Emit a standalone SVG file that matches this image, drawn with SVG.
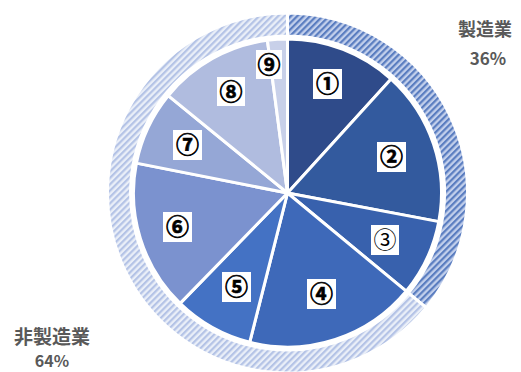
<svg xmlns="http://www.w3.org/2000/svg" width="521" height="372" viewBox="0 0 521 372">
<defs>
<pattern id="hatchM" patternUnits="userSpaceOnUse" width="4.5" height="4.5" patternTransform="rotate(45)">
<rect width="4.5" height="4.5" fill="#c3d0ec"/>
<rect width="2.2" height="4.5" fill="#5a7dc0"/>
</pattern>
<pattern id="hatchN" patternUnits="userSpaceOnUse" width="4.5" height="4.5" patternTransform="rotate(45)">
<rect width="4.5" height="4.5" fill="#eaeff8"/>
<rect width="2.2" height="4.5" fill="#b4c3e6"/>
</pattern>
</defs>
<style>
.sl{stroke:#ffffff;stroke-width:3;stroke-linejoin:round}
.ring{stroke:#ffffff;stroke-width:3}
.lb{fill:#ffffff}
.num{font-family:"Noto Sans CJK JP","DejaVu Sans",sans-serif;font-size:23px;font-weight:bold;fill:#000000;stroke:#000000;stroke-width:0.7;text-anchor:middle}
.thin{font-weight:normal;stroke-width:0}
.cat{font-family:"Noto Sans CJK JP","Noto Sans",sans-serif;font-weight:bold;fill:#595959;text-anchor:middle}
</style>
<rect width="521" height="372" fill="#ffffff"/>
<g id="ring">
<path id="ring-manufacturing" class="ring" fill="url(#hatchM)" d="M287.5,13 A180,180 0 0 1 426.2,307.7 L408.5,293.1 A157,157 0 0 0 287.5,36 Z"/>
<path id="ring-nonmanufacturing" class="ring" fill="url(#hatchN)" d="M426.2,307.7 A180,180 0 1 1 287.5,13 L287.5,36 A157,157 0 1 0 408.5,293.1 Z"/>
</g>
<g id="slices">
<path id="s1" class="sl" fill="#2f4b8a" d="M287.5,193 L287.5,39 A154,154 0 0 1 391.1,79.1 Z"/>
<path id="s2" class="sl" fill="#335a9e" d="M287.5,193 L391.1,79.1 A154,154 0 0 1 438.8,221.6 Z"/>
<path id="s3" class="sl" fill="#3861ad" d="M287.5,193 L438.8,221.6 A154,154 0 0 1 406.2,291.2 Z"/>
<path id="s4" class="sl" fill="#3e69b9" d="M287.5,193 L406.2,291.2 A154,154 0 0 1 249.7,342.3 Z"/>
<path id="s5" class="sl" fill="#4472c4" d="M287.5,193 L249.7,342.3 A154,154 0 0 1 180.1,303.4 Z"/>
<path id="s6" class="sl" fill="#7b92cf" d="M287.5,193 L180.1,303.4 A154,154 0 0 1 136.4,163.1 Z"/>
<path id="s7" class="sl" fill="#95a7d6" d="M287.5,193 L136.4,163.1 A154,154 0 0 1 168.2,95.7 Z"/>
<path id="s8" class="sl" fill="#b0bcdf" d="M287.5,193 L168.2,95.7 A154,154 0 0 1 267.4,40.3 Z"/>
<path id="s9" class="sl" fill="#c8d0e9" d="M287.5,193 L267.4,40.3 A154,154 0 0 1 287.5,39 Z"/>
</g>
<g id="labels">
<g id="l1"><rect class="lb" x="313" y="69" width="29" height="30"/><text class="num" x="327.5" y="92">①</text></g>
<g id="l2"><rect class="lb" x="377" y="142" width="29" height="30"/><text class="num" x="391.5" y="165">②</text></g>
<g id="l3"><rect class="lb" x="371" y="225" width="28" height="30"/><text class="num thin" x="385" y="248">③</text></g>
<g id="l4"><rect class="lb" x="307" y="279" width="29" height="30"/><text class="num" x="321.5" y="302">④</text></g>
<g id="l5"><rect class="lb" x="222" y="272" width="29" height="30"/><text class="num" x="236.5" y="295">⑤</text></g>
<g id="l6"><rect class="lb" x="163" y="212" width="29" height="30"/><text class="num" x="177.5" y="235">⑥</text></g>
<g id="l7"><rect class="lb" x="173" y="130" width="29" height="30"/><text class="num" x="187.5" y="153">⑦</text></g>
<g id="l8"><rect class="lb" x="217" y="77" width="28" height="29"/><text class="num" x="231" y="99.5">⑧</text></g>
<g id="l9"><rect class="lb" x="256" y="50" width="26" height="29"/><text class="num" x="269" y="72.5">⑨</text></g>
</g>
<g id="categories">
<text class="cat" x="485" y="36" font-size="18">製造業</text>
<text class="cat" x="488" y="65" font-size="17">36%</text>
<text class="cat" x="52" y="344" font-size="19">非製造業</text>
<text class="cat" x="52" y="367" font-size="16">64%</text>
</g>
</svg>
